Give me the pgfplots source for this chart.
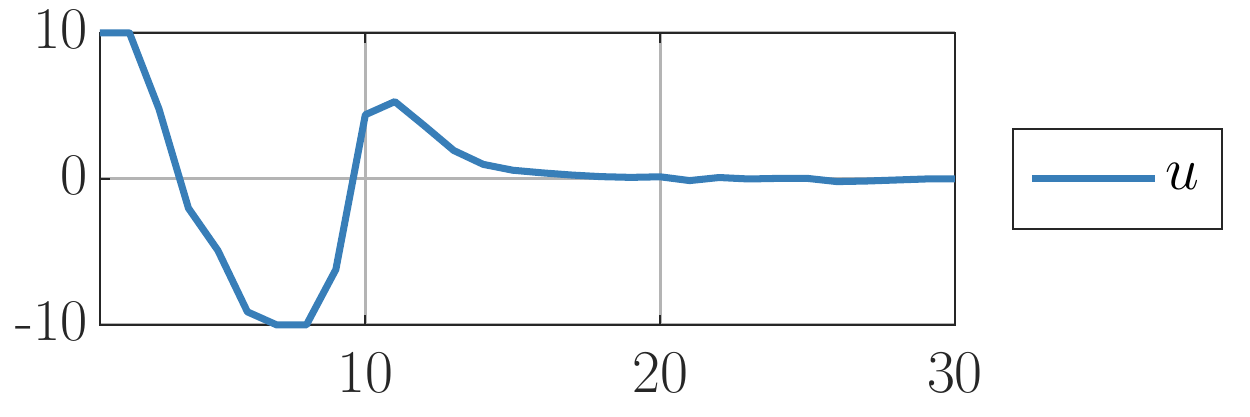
\documentclass[border=0pt]{standalone}
\usepackage{pgfplots}
\pgfplotsset{compat=1.18}
\definecolor{ublue}{RGB}{56,126,184}
\definecolor{axcol}{RGB}{38,38,38}
\definecolor{gridcol}{RGB}{180,180,180}
\begin{document}
\begin{tikzpicture}
\useasboundingbox (-1.00,-0.92) rectangle (11.50,3.25);
\begin{axis}[
  at={(0,0)}, anchor=south west,
  scale only axis, width=8.55cm, height=2.92cm,
  xmin=1, xmax=30, ymin=-10, ymax=10,
  xtick={10,20,30}, ytick={-10,0,10},
  yticklabels={-10,0,10},
  clip=false,
  axis line style={axcol, line width=0.6pt},
  tick style={axcol, line width=0.6pt},
  tick align=inside, major tick length=0.1cm,
  grid=major, grid style={gridcol, line width=0.85pt},
  tick label style={font=\fontsize{16.8}{20}\selectfont, text=axcol},
  yticklabel style={yshift=0.04cm},
  xticklabel style={yshift=-0.16cm},
  legend style={at={(1.0667,0.5)}, anchor=west, draw=axcol, line width=0.6pt,
    inner xsep=0.155cm, inner ysep=0.27cm, font=\fontsize{18}{22}\selectfont},
  legend image code/.code={\draw[#1] (0cm,0cm) -- (1.23cm,0cm);},
]
\addplot[ublue, line width=2pt, line join=round] coordinates {
(1,10)(2,10)(3,4.8)(4,-2.0)(5,-4.9)(6,-9.1)(7,-10)(8,-10)(9,-6.2)(10,4.4)
(11,5.3)(12,3.65)(13,1.95)(14,1.0)(15,0.6)(16,0.42)(17,0.27)(18,0.16)(19,0.11)(20,0.15)
(21,-0.11)(22,0.1)(23,0.0)(24,0.04)(25,0.04)(26,-0.18)(27,-0.14)(28,-0.07)(29,0.0)(30,0.0)};
\addlegendentry{$u$}
\end{axis}
\end{tikzpicture}
\end{document}
